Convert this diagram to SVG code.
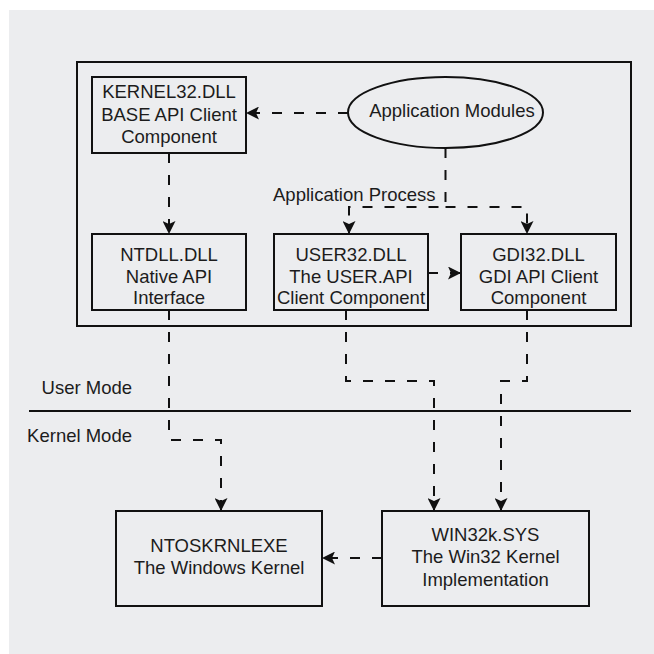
<svg xmlns="http://www.w3.org/2000/svg" width="654" height="654" viewBox="0 0 654 654">
<style>
  .box{fill:none;stroke:#111;stroke-width:2}
  .t{font-family:"Liberation Sans",Arial,sans-serif;font-size:18.5px;fill:#1c1c1c;text-anchor:middle}
  .ts{font-family:"Liberation Sans",Arial,sans-serif;font-size:18.5px;fill:#1c1c1c}
  .c{fill:none;stroke:#111;stroke-width:2;stroke-dasharray:10 12}
</style>
<defs>
  <marker id="ah" markerUnits="userSpaceOnUse" markerWidth="14" markerHeight="13" refX="13" refY="6.5" orient="auto">
    <path d="M0,0 L13,6.5 L0,13 L3,6.5 z" fill="#111"/>
  </marker>
</defs>
<rect x="0" y="0" width="654" height="654" fill="#ffffff"/>
<rect x="9" y="10" width="645" height="644" fill="#ecedef"/>

<g id="process-boundary">
  <rect x="77" y="62" width="554" height="264" class="box"/>
  <text class="ts" x="273" y="201">Application Process</text>
</g>

<g id="mode-divider">
  <line x1="29" y1="411" x2="631" y2="411" stroke="#111" stroke-width="2"/>
  <text class="ts" x="132" y="394" text-anchor="end">User Mode</text>
  <text class="ts" x="132" y="442" text-anchor="end">Kernel Mode</text>
</g>

<g id="kernel32">
  <rect x="92" y="77" width="154" height="76" class="box"/>
  <text class="t" x="169" y="98">KERNEL32.DLL</text>
  <text class="t" x="169" y="120.5">BASE API Client</text>
  <text class="t" x="169" y="143">Component</text>
</g>

<g id="app-modules">
  <ellipse cx="445.5" cy="112.5" rx="97.5" ry="35.5" class="box"/>
  <text class="t" x="452" y="117">Application Modules</text>
</g>

<g id="ntdll">
  <rect x="92" y="234" width="154" height="76" class="box"/>
  <text class="t" x="169" y="261">NTDLL.DLL</text>
  <text class="t" x="169" y="282.5">Native API</text>
  <text class="t" x="169" y="304">Interface</text>
</g>

<g id="user32">
  <rect x="274" y="234" width="154" height="76" class="box"/>
  <text class="t" x="351" y="261">USER32.DLL</text>
  <text class="t" x="351" y="282.5">The USER.API</text>
  <text class="t" x="351" y="304">Client Component</text>
</g>

<g id="gdi32">
  <rect x="461" y="234" width="155" height="76" class="box"/>
  <text class="t" x="538.5" y="261">GDI32.DLL</text>
  <text class="t" x="538.5" y="282.5">GDI API Client</text>
  <text class="t" x="538.5" y="304">Component</text>
</g>

<g id="ntoskrnl">
  <rect x="116" y="511" width="206" height="95" class="box"/>
  <text class="t" x="219" y="552">NTOSKRNLEXE</text>
  <text class="t" x="219" y="574">The Windows Kernel</text>
</g>

<g id="win32k">
  <rect x="382" y="511" width="207" height="95" class="box"/>
  <text class="t" x="485.5" y="541">WIN32k.SYS</text>
  <text class="t" x="485.5" y="563">The Win32 Kernel</text>
  <text class="t" x="485.5" y="586">Implementation</text>
</g>

<g id="connectors">
  <path class="c" d="M348,113 H246" marker-end="url(#ah)"/>
  <path class="c" d="M169,153 V234" marker-end="url(#ah)"/>
  <path class="c" d="M445.5,148 V207 H349 V234" marker-end="url(#ah)"/>
  <path class="c" d="M445.5,207 H527 V234" marker-end="url(#ah)"/>
  <path class="c" d="M428,273 H461" marker-end="url(#ah)"/>
  <path class="c" d="M169,310 V440 H221 V511" marker-end="url(#ah)"/>
  <path class="c" d="M346,310 V381 H434 V511" marker-end="url(#ah)"/>
  <path class="c" d="M527,310 V381 H501 V511" marker-end="url(#ah)"/>
  <path class="c" d="M382,558 H322" marker-end="url(#ah)"/>
</g>
</svg>
